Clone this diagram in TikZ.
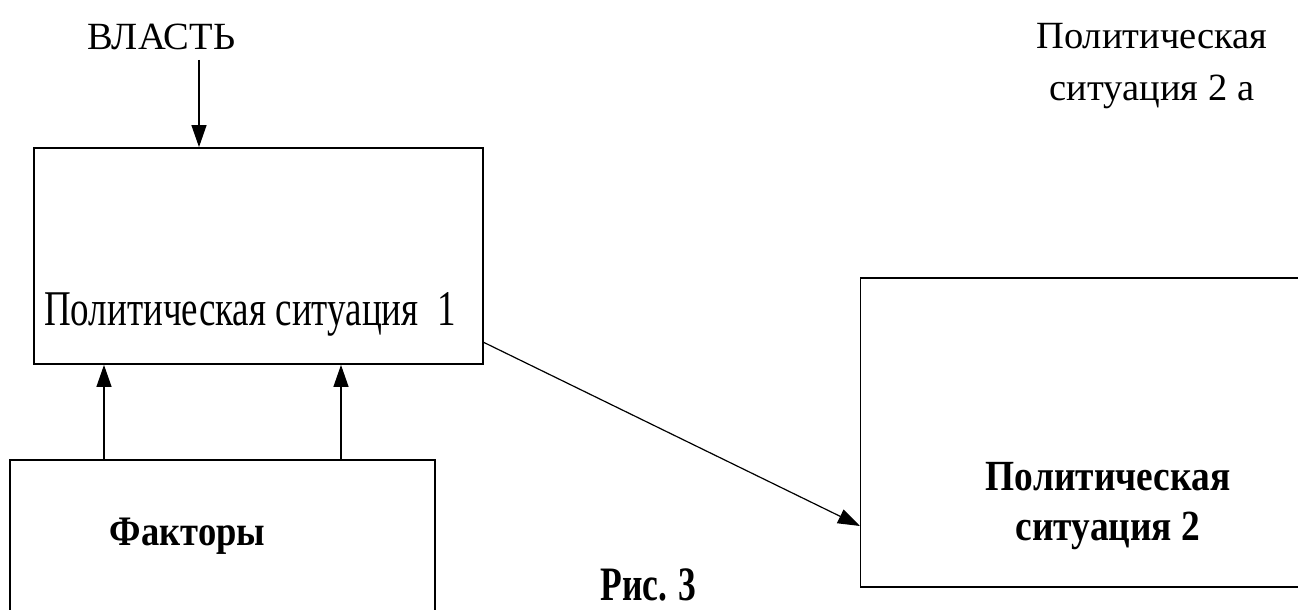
\documentclass[tikz,border=0pt]{standalone}
\usepackage{fontspec}
\setmainfont{Liberation Serif}
\newfontfamily\sitfont{Liberation Serif}[FakeStretch=0.74]
\newfontfamily\boldsit{Liberation Serif}[FakeStretch=0.87]
\newfontfamily\figfont{Liberation Serif}[FakeStretch=0.74]
\usetikzlibrary{arrows.meta,positioning}

\begin{document}
\begin{tikzpicture}[
    x=1pt,y=-1pt,
    >={Triangle[length=22pt,width=15pt]},
    box/.style={rectangle,draw,line width=1.8pt,inner sep=0pt},
    conn/.style={->,line width=1.2pt},
    lbl/.style={inner sep=0pt,font=\fontsize{38.5}{52}\selectfont},
    blbl/.style={inner sep=0pt,font=\fontsize{43}{50}\boldsit\bfseries}
]
\useasboundingbox (0,0) rectangle (1298,610);

% Boxes
\node[box,minimum width=449pt,minimum height=216pt] (sit1) at (258.5,256) {};
\node[box,minimum width=460pt,minimum height=309pt] (sit2) at (1090.5,432.5) {};
\node[box,minimum width=425pt,minimum height=170pt] (fac) at (222.5,545) {};

% Labels (base of a two-line label is its last line)
\node[lbl,anchor=base] (vlast) at (161.5,50) {ВЛАСТЬ};
\node[lbl,anchor=base west,font=\fontsize{50}{56}\sitfont] (sit1txt) at (44,325) {Политическая ситуация~~1};
\node[lbl,align=center,anchor=base] (sit2a) at (1152,100) {Политическая\\ситуация 2 а};
\node[blbl,align=center,anchor=base] (sit2txt) at (1108,540) {Политическая\\ситуация 2};
\node[blbl,anchor=base,font=\fontsize{42}{46}\boldsit\bfseries] (factxt) at (187.5,545) {Факторы};
\node[blbl,anchor=base,font=\fontsize{48}{52}\figfont\bfseries] (fig) at (648.5,600) {Рис. 3};

% Power acts on situation 1
\coordinate (vtop) at (199,60);
\draw[conn] (vtop) -- (vtop |- sit1.north);

% Factors act on situation 1
\coordinate (f1) at (104,460);
\coordinate (f2) at (341,460);
\draw[conn] (f1) -- (f1 |- sit1.south);
\draw[conn] (f2) -- (f2 |- sit1.south);

% Transition to situation 2
\coordinate (d1) at (483,342);
\coordinate (d2) at (860,526);
\draw[conn] (d1) -- (d2);

\end{tikzpicture}
\end{document}
